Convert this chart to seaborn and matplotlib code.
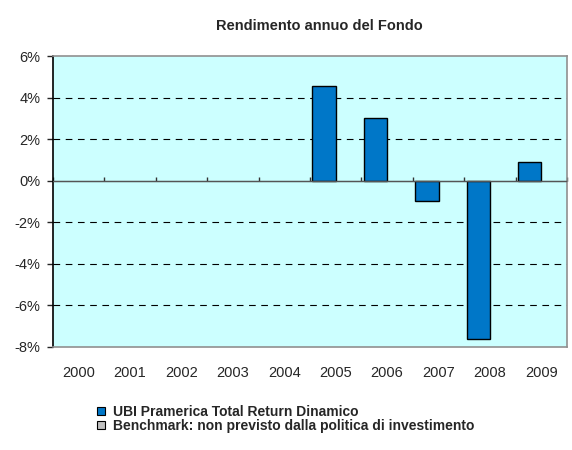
import pandas as pd
import numpy as np
import matplotlib
matplotlib.use("Agg")
import matplotlib.pyplot as plt
import matplotlib.patches as mpatches
from matplotlib.ticker import PercentFormatter
import seaborn as sns

# values
years = ["2000", "2001", "2002", "2003", "2004", "2005", "2006", "2007", "2008", "2009"]
fund_returns = [np.nan, np.nan, np.nan, np.nan, np.nan, 0.0458, 0.0303, -0.0098, -0.0762, 0.0091]
benchmark_returns = [np.nan] * 10
fund_name = "UBI Pramerica Total Return Dinamico"
bench_name = "Benchmark: non previsto dalla politica di investimento"

df = pd.DataFrame({
    "year": years * 2,
    "value": fund_returns + benchmark_returns,
    "series": [fund_name] * 10 + [bench_name] * 10,
})
colors = {fund_name: "#0077C8", bench_name: "#C0C0C0"}

sns.set_style("white")
plt.rcParams["font.family"] = ["Liberation Sans", "DejaVu Sans"]
plt.rcParams["axes.unicode_minus"] = False

fig = plt.figure(figsize=(5.72, 4.5), dpi=100)
ax = fig.add_axes([53 / 572, 1 - 347 / 450, 514 / 572, 291 / 450])
ax.set_facecolor("#CCFFFF")

sns.barplot(data=df, x="year", y="value", hue="series", order=years,
            hue_order=[fund_name, bench_name], palette=colors, saturation=1, width=0.91,
            edgecolor="black", linewidth=1, errorbar=None, legend=False, ax=ax, zorder=3)

ax.set_ylim(-0.08, 0.06)
ax.set_xlim(-0.5, 9.5)
ax.set_yticks(np.arange(-0.08, 0.061, 0.02))
ax.yaxis.set_major_formatter(PercentFormatter(1.0, decimals=0))
for y in [-0.06, -0.04, -0.02, 0.02, 0.04]:
    ax.axhline(y, color="black", lw=0.8, ls=(0, (6, 5)), zorder=1)
ax.axhline(0, color="#555555", lw=1.0, zorder=4)

ax.set_xlabel("")
ax.set_ylabel("")
ax.tick_params(axis="x", length=0, pad=14, labelsize=10.5)
ax.tick_params(axis="y", length=4, width=1, direction="out", pad=5, labelsize=10.5, left=True)

# tick marks between categories along the zero line
sec = ax.secondary_xaxis(8 / 14)
sec.set_xticks(np.arange(-0.5, 9.6, 1.0))
sec.set_xticklabels([])
sec.tick_params(length=3, width=1, direction="out", color="#333333")
sec.spines["bottom"].set_visible(False)

for side in ["top", "right", "bottom"]:
    ax.spines[side].set_color("#909090")
    ax.spines[side].set_linewidth(1.2)
ax.spines["left"].set_color("black")
ax.spines["left"].set_linewidth(1.2)

fig.text(319 / 572, 1 - 26 / 450, "Rendimento annuo del Fondo", ha="center", va="center",
         fontsize=10.5, fontweight="bold")

handles = [mpatches.Patch(facecolor=colors[s], edgecolor="black", linewidth=0.8, label=s)
           for s in [fund_name, bench_name]]
fig.legend(handles=handles, loc="upper left", bbox_to_anchor=(97 / 572, 1 - 405 / 450),
           frameon=False, prop={"weight": "bold", "size": 10}, handlelength=0.55,
           handleheight=0.55, handletextpad=0.6, labelspacing=0.0, borderaxespad=0,
           borderpad=0)

fig.savefig("out.png", dpi=100)
